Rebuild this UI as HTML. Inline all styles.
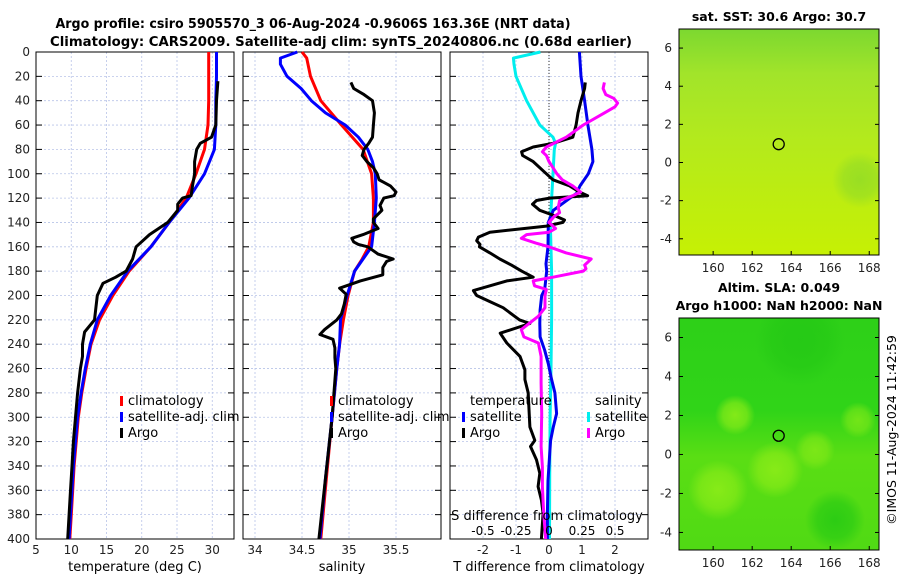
<!DOCTYPE html>
<html><head><meta charset="utf-8">
<style>
body{margin:0;background:#fff;}
svg{display:block;font-family:"DejaVu Sans","Liberation Sans",sans-serif;}
</style></head>
<body>
<svg id="chart" width="900" height="580" viewBox="0 0 900 580" xmlns="http://www.w3.org/2000/svg">
<text x="313" y="28" text-anchor="middle" font-size="13" font-weight="bold" textLength="515" lengthAdjust="spacingAndGlyphs">Argo profile: csiro 5905570_3 06-Aug-2024 -0.9606S 163.36E (NRT data)</text>
<text x="341" y="46" text-anchor="middle" font-size="13" font-weight="bold" textLength="582" lengthAdjust="spacingAndGlyphs">Climatology: CARS2009. Satellite-adj clim: synTS_20240806.nc (0.68d earlier)</text>
<g id="plots"></g>
<g id="maps"></g>
<text transform="translate(896,430) rotate(-90)" text-anchor="middle" font-size="12.5">©IMOS 11-Aug-2024 11:42:59</text>
</svg>
<script>
// ---- data ----
const tClimD = [0,20,40,60,80,100,120,140,160,180,200,220,240,260,280,300,320,340,360,380,400];
const tClimV = [29.5,29.5,29.5,29.4,28.9,27.7,26.3,23.9,21.3,18.2,15.9,14,12.8,12.1,11.5,11,10.7,10.4,10.2,10,9.8];
const tSatD = [0,20,40,60,80,100,120,140,160,180,200,220,240,260,280,300,320,340,360,380,400];
const tSatV = [30.6,30.6,30.5,30.5,30.3,28.9,26.7,23.9,21.3,18,15.6,13.7,12.7,12,11.4,10.9,10.6,10.3,10.1,9.9,9.7];
const tArgoD = [24,40,60,70,75,80,90,100,110,118,120,125,130,140,150,160,170,180,185,190,200,210,220,230,240,250,260,280,300,320,340,360,380,400];
const tArgoV = [30.8,30.6,30.5,29.9,28.3,27.8,27.5,27.5,27.2,27,25.8,25.1,25.1,23.7,21.1,19.2,18.7,17.8,16.3,14.5,13.7,13.5,13.3,11.9,11.6,11.6,11.3,10.9,10.6,10.3,10.1,9.9,9.7,9.5];

const sClimD = [0,5,20,40,60,80,100,120,140,160,170,180,200,220,240,260,300,350,400];
const sClimV = [34.5,34.55,34.59,34.7,34.92,35.15,35.24,35.26,35.26,35.21,35.14,35.06,34.99,34.94,34.9,34.87,34.82,34.76,34.7];
const sSatD = [0,5,10,20,30,40,50,60,70,80,90,100,120,140,160,180,200,220,240,260,300,350,400];
const sSatV = [34.45,34.27,34.27,34.34,34.49,34.6,34.75,34.96,35.1,35.2,35.25,35.28,35.29,35.27,35.24,35.06,34.98,34.91,34.9,34.87,34.82,34.75,34.69];
const sArgoD = [25,30,35,40,50,60,70,75,80,85,90,95,100,105,110,115,118,120,126,130,137,140,145,150,153,156,158,160,166,170,172,177,183,188,194,199,207,215,220,228,232,236,243,251,260,300,350,400];
const sArgoV = [35.02,35.05,35.16,35.25,35.27,35.26,35.25,35.21,35.16,35.14,35.19,35.26,35.3,35.32,35.44,35.5,35.48,35.37,35.33,35.35,35.26,35.26,35.31,35.15,35.03,35.05,35.1,35.2,35.31,35.47,35.4,35.36,35.36,35.12,34.9,34.97,34.95,34.92,34.87,34.74,34.69,34.83,34.85,34.85,34.86,34.82,34.75,34.68];

const dTSatD = [0,20,40,60,80,90,100,110,116,130,140,160,174,180,195,200,212,223,234,245,256,269,280,297,308,319,330,352,379,400];
const dTSatV = [0.92,0.97,1.08,1.18,1.3,1.33,1.19,0.94,0.84,0.13,-0.02,-0.03,-0.09,-0.07,-0.13,-0.22,-0.27,-0.28,-0.27,-0.13,-0.02,0.08,0.18,0.23,0.13,0.05,0.02,-0.03,-0.05,-0.05];
const dTArgoD = [25,30,40,50,60,70,75,78,82,85,90,100,105,110,115,118,120,122,125,130,135,138,140,143,148,152,155,158,160,165,170,175,180,185,188,192,196,200,205,210,220,223,231,239,250,261,269,280,297,308,319,324,335,346,357,368,379,400];
const dTArgoV = [1.1,1.08,0.97,0.88,0.82,0.72,0.12,-0.48,-0.83,-0.8,-0.48,-0.08,0.12,0.62,0.92,1.17,0.02,-0.38,-0.5,-0.28,0.22,0.47,0.42,-0.08,-1.79,-2.14,-2.19,-2.09,-2.11,-1.79,-1.49,-1.14,-0.83,-0.48,-1.28,-1.79,-2.29,-2.19,-1.79,-1.39,-0.89,-0.58,-1.48,-1.28,-0.88,-0.73,-0.73,-0.63,-0.6,-0.58,-0.43,-0.56,-0.38,-0.28,-0.33,-0.23,-0.18,-0.23];
const dSSatD = [0,5,10,20,40,60,70,75,80,100,140,180,220,260,300,350,400];
const dSSatV = [-0.065,-0.27,-0.265,-0.25,-0.17,-0.07,0.03,0.05,0.04,0.03,0.01,0.02,0.02,0.015,0.008,0.005,0.004];
const dSArgoD = [25,30,35,38,42,45,50,60,70,78,82,85,90,95,100,105,110,115,118,122,128,132,135,140,145,148,150,153,157,160,165,170,175,178,180,185,188,192,195,200,210,217,228,234,239,250,272,297,324,341,357,379,400];
const dSArgoV = [0.42,0.41,0.43,0.49,0.52,0.5,0.42,0.26,0.13,-0.02,-0.05,-0.02,0.0,0.03,0.06,0.1,0.18,0.24,0.18,0.08,0.07,0.08,0.04,0.0,0.05,0.0,-0.17,-0.21,-0.1,0.0,0.13,0.32,0.27,0.28,0.26,0.03,-0.12,-0.11,-0.02,-0.03,-0.03,-0.08,-0.21,-0.19,-0.08,-0.06,-0.06,-0.055,-0.06,-0.05,-0.05,-0.04,-0.025];

const depthTicks = [0,20,40,60,80,100,120,140,160,180,200,220,240,260,280,300,320,340,360,380,400];
const p1Ticks = [5,10,15,20,25,30];
const p2Ticks = [34,34.5,35,35.5];
const p2Labels = ["34","34.5","35","35.5"];
const p3Ticks = [-2,-1,0,1,2];
const p3SLabels = ["-0.5","-0.25","0","0.25","0.5"];
const p3SValues = [-0.5,-0.25,0,0.25,0.5];

// ---- drawing ----
const NS = "http://www.w3.org/2000/svg";
const plots = document.getElementById('plots');
const Y0 = 52, Y1 = 539;
const yS = d => Y0 + (d/400)*(Y1-Y0);
function mk(tag, attrs, parent){
  const e = document.createElementNS(NS, tag);
  for (const k in attrs) e.setAttribute(k, attrs[k]);
  (parent||plots).appendChild(e); return e;
}
const panels = [
  {name:'temperature', x0:36, x1:234, min:5, max:5+198/7.05},
  {name:'salinity', x0:243, x1:441, min:34-12/94, max:34-12/94+198/94},
  {name:'difference', x0:450, x1:648, min:-3, max:3}
];
panels.forEach(p => p.xs = v => p.x0 + (v-p.min)/(p.max-p.min)*(p.x1-p.x0));

function frame(p, ticks, labels){
  const g = mk('g', {});
  
  
  depthTicks.forEach(d => {
    const l = mk('line', {x1:p.x0, x2:p.x1, y1:yS(d), y2:yS(d), stroke:'#b8c4e8', 'stroke-width':0.8, 'stroke-dasharray':'2,2'}, g);
    
    
    mk('line', {x1:p.x0, x2:p.x0+6, y1:yS(d), y2:yS(d), stroke:'#000'}, g);
    mk('line', {x1:p.x1-6, x2:p.x1, y1:yS(d), y2:yS(d), stroke:'#000'}, g);
  });
  ticks.forEach((t,i) => {
    const x = p.xs(t);
    const l = mk('line', {x1:x, x2:x, y1:Y0, y2:Y1, stroke:'#b8c4e8', 'stroke-width':0.8, 'stroke-dasharray':'2,2'}, g);
    
    
    const tx = mk('text', {x:x, y:554, 'text-anchor':'middle', 'font-size':12, fill:'#222'}, g);
    
    
    tx.textContent = labels[i];
  });
  const r = mk('rect', {x:p.x0, y:Y0, width:p.x1-p.x0, height:Y1-Y0, fill:'none', stroke:'#000', 'stroke-width':1}, g);
  
  
  return g;
}
function series(p, D, V, color, name, scale){
  const sc = scale||1;
  const pts = D.map((d,i) => p.xs(V[i]*sc).toFixed(1)+','+yS(d).toFixed(1)).join(' ');
  const l = mk('polyline', {points:pts, fill:'none', stroke:color, 'stroke-width':3, 'stroke-linejoin':'round'});
  
  
}
function text(x, y, s, name, attrs){
  const t = mk('text', Object.assign({x:x, y:y, 'font-size':13}, attrs||{}));
  
  
  t.textContent = s;
  return t;
}
function legendMark(x, y, color){
  const m = mk('rect', {x:x, y:y-9, width:3, height:10, fill:color});
  
  
}

depthTicks.forEach(d => {
  text(30, yS(d)+4, String(d), 'y-tick-label', {'text-anchor':'end', 'font-size':12, fill:'#222'});
});

const [P1,P2,P3] = panels;
frame(P1, p1Ticks, p1Ticks.map(String));
frame(P2, p2Ticks, p2Labels);
frame(P3, p3Ticks, p3Ticks.map(String));
mk('line', {x1:P3.xs(0), x2:P3.xs(0), y1:Y0, y2:Y1, stroke:'#333', 'stroke-width':1, 'stroke-dasharray':'1,2'});

series(P1, tClimD, tClimV, '#ff0000', 'temp-climatology-line');
series(P1, tSatD, tSatV, '#0000ff', 'temp-satellite-line');
series(P1, tArgoD, tArgoV, '#000000', 'temp-argo-line');
series(P2, sClimD, sClimV, '#ff0000', 'sal-climatology-line');
series(P2, sSatD, sSatV, '#0000ff', 'sal-satellite-line');
series(P2, sArgoD, sArgoV, '#000000', 'sal-argo-line');
series(P3, dSSatD, dSSatV, '#00eeee', 'sdiff-satellite-line', 4);
series(P3, dTSatD, dTSatV, '#0000ee', 'tdiff-satellite-line');
series(P3, dTArgoD, dTArgoV, '#000000', 'tdiff-argo-line');
series(P3, dSArgoD, dSArgoV, '#ff00ff', 'sdiff-argo-line', 4);

[[P1,120],[P2,330]].forEach(([p,lx]) => {
  legendMark(lx, 405, '#ff0000'); text(lx+8, 405, 'climatology', 'legend-climatology');
  legendMark(lx, 421, '#0000ff'); text(lx+8, 421, 'satellite-adj. clim', 'legend-satellite');
  legendMark(lx, 437, '#000000'); text(lx+8, 437, 'Argo', 'legend-argo');
});
text(470, 405, 'temperature', 'legend-temperature-header');
legendMark(462, 421, '#0000ff'); text(470, 421, 'satellite', 'legend-t-satellite');
legendMark(462, 437, '#000000'); text(470, 437, 'Argo', 'legend-t-argo');
text(595, 405, 'salinity', 'legend-salinity-header');
legendMark(587, 421, '#00eeee'); text(595, 421, 'satellite', 'legend-s-satellite');
legendMark(587, 437, '#ff00ff'); text(595, 437, 'Argo', 'legend-s-argo');
text(547, 520, 'S difference from climatology', 's-axis-title', {'text-anchor':'middle'});
p3SValues.forEach((v,i) => text(P3.xs(v*4), 535, p3SLabels[i], 's-tick-label', {'text-anchor':'middle', 'font-size':12}));

text((P1.x0+P1.x1)/2, 571, 'temperature (deg C)', 'x-axis-title-temperature', {'text-anchor':'middle'});
text((P2.x0+P2.x1)/2, 571, 'salinity', 'x-axis-title-salinity', {'text-anchor':'middle'});
text((P3.x0+P3.x1)/2, 571, 'T difference from climatology', 'x-axis-title-tdiff', {'text-anchor':'middle'});

// ---- maps ----
const maps = document.getElementById('maps');
const mapLonTicks = [160,162,164,166,168];
const mapLatTicks = [6,4,2,0,-2,-4];
const floatLon = 163.36, floatLat = 0.96;
const mapDefs = [
  {name:'sst-map', y0:29, y1:255, latTop:7.0, latBot:-4.85, title:['sat. SST: 30.6 Argo: 30.7'],
   grad:[['0','#7cd830'],['0.2','#a2e42a'],['0.5','#b4ea1c'],['1','#c6f004']],
   blobs:[['#8ad82a',860,180,28,0.7]]},
  {name:'sla-map', y0:318, y1:550, latTop:7.0, latBot:-4.9, title:['Altim. SLA: 0.049','Argo h1000: NaN h2000: NaN'],
   grad:[['0','#2ed018'],['0.4','#30d418'],['0.6','#5ade14'],['1','#50da14']],
   blobs:[['#8cec18',718,490,30,0.9],['#8cec18',735,415,20,0.9],['#8cec18',775,470,28,0.9],['#86ea18',815,450,20,0.8],['#8cec18',858,420,18,0.7],['#22c814',835,520,30,0.8],['#1fc414',800,340,45,0.6]]}
];
const MX0 = 679, MX1 = 879, LON0 = 158.25, LON1 = 168.5;
const lonS = lo => MX0 + (lo-LON0)/(LON1-LON0)*(MX1-MX0);
mapDefs.forEach((m, mi) => {
  const latS = la => m.y0 + (m.latTop-la)/(m.latTop-m.latBot)*(m.y1-m.y0);
  const g = mk('g', {}, maps);
  
  
  const defs = mk('defs', {}, g);
  const lg = mk('linearGradient', {id:'lg'+mi, x1:0, y1:0, x2:0, y2:1}, defs);
  m.grad.forEach(s => mk('stop', {offset:s[0], 'stop-color':s[1]}, lg));
  const cp = mk('clipPath', {id:'cp'+mi}, defs);
  mk('rect', {x:MX0, y:m.y0, width:MX1-MX0, height:m.y1-m.y0}, cp);
  const bg = mk('rect', {x:MX0, y:m.y0, width:MX1-MX0, height:m.y1-m.y0, fill:'url(#lg'+mi+')'}, g);
  
  
  const bl = mk('g', {'clip-path':'url(#cp'+mi+')'}, g);
  m.blobs.forEach((b, bi) => {
    const id = 'bl'+mi+'_'+bi;
    const rg = mk('radialGradient', {id:id}, defs);
    mk('stop', {offset:'0', 'stop-color':b[0], 'stop-opacity':b[4]}, rg);
    mk('stop', {offset:'0.6', 'stop-color':b[0], 'stop-opacity':b[4]*0.7}, rg);
    mk('stop', {offset:'1', 'stop-color':b[0], 'stop-opacity':0}, rg);
    mk('circle', {cx:b[1], cy:b[2], r:b[3], fill:'url(#'+id+')'}, bl);
  });
  const fr = mk('rect', {x:MX0, y:m.y0, width:MX1-MX0, height:m.y1-m.y0, fill:'none', stroke:'#000'}, g);
  
  
  mapLonTicks.forEach(lo => {
    mk('line', {x1:lonS(lo), x2:lonS(lo), y1:m.y1, y2:m.y1-4, stroke:'#000'}, g);
    g.appendChild(text(lonS(lo), m.y1+17, String(lo), 'map-lon-tick-label', {'text-anchor':'middle', 'font-size':12, fill:'#222'}));
  });
  mapLatTicks.forEach(la => {
    mk('line', {x1:MX0, x2:MX0+4, y1:latS(la), y2:latS(la), stroke:'#000'}, g);
    mk('line', {x1:MX1, x2:MX1-4, y1:latS(la), y2:latS(la), stroke:'#000'}, g);
    g.appendChild(text(MX0-7, latS(la)+4, String(la), 'map-lat-tick-label', {'text-anchor':'end', 'font-size':12, fill:'#222'}));
  });
  const c = mk('circle', {cx:lonS(floatLon), cy:latS(floatLat), r:5.5, fill:'none', stroke:'#000', 'stroke-width':1.3}, g);
  
  
  m.title.forEach((s, ti) => {
    g.appendChild(text(779, m.y0 - 8 - (m.title.length-1-ti)*18, s, 'map-title', {'text-anchor':'middle', 'font-weight':'bold', 'font-size':12.5}));
  });
});
</script>
</body></html>
